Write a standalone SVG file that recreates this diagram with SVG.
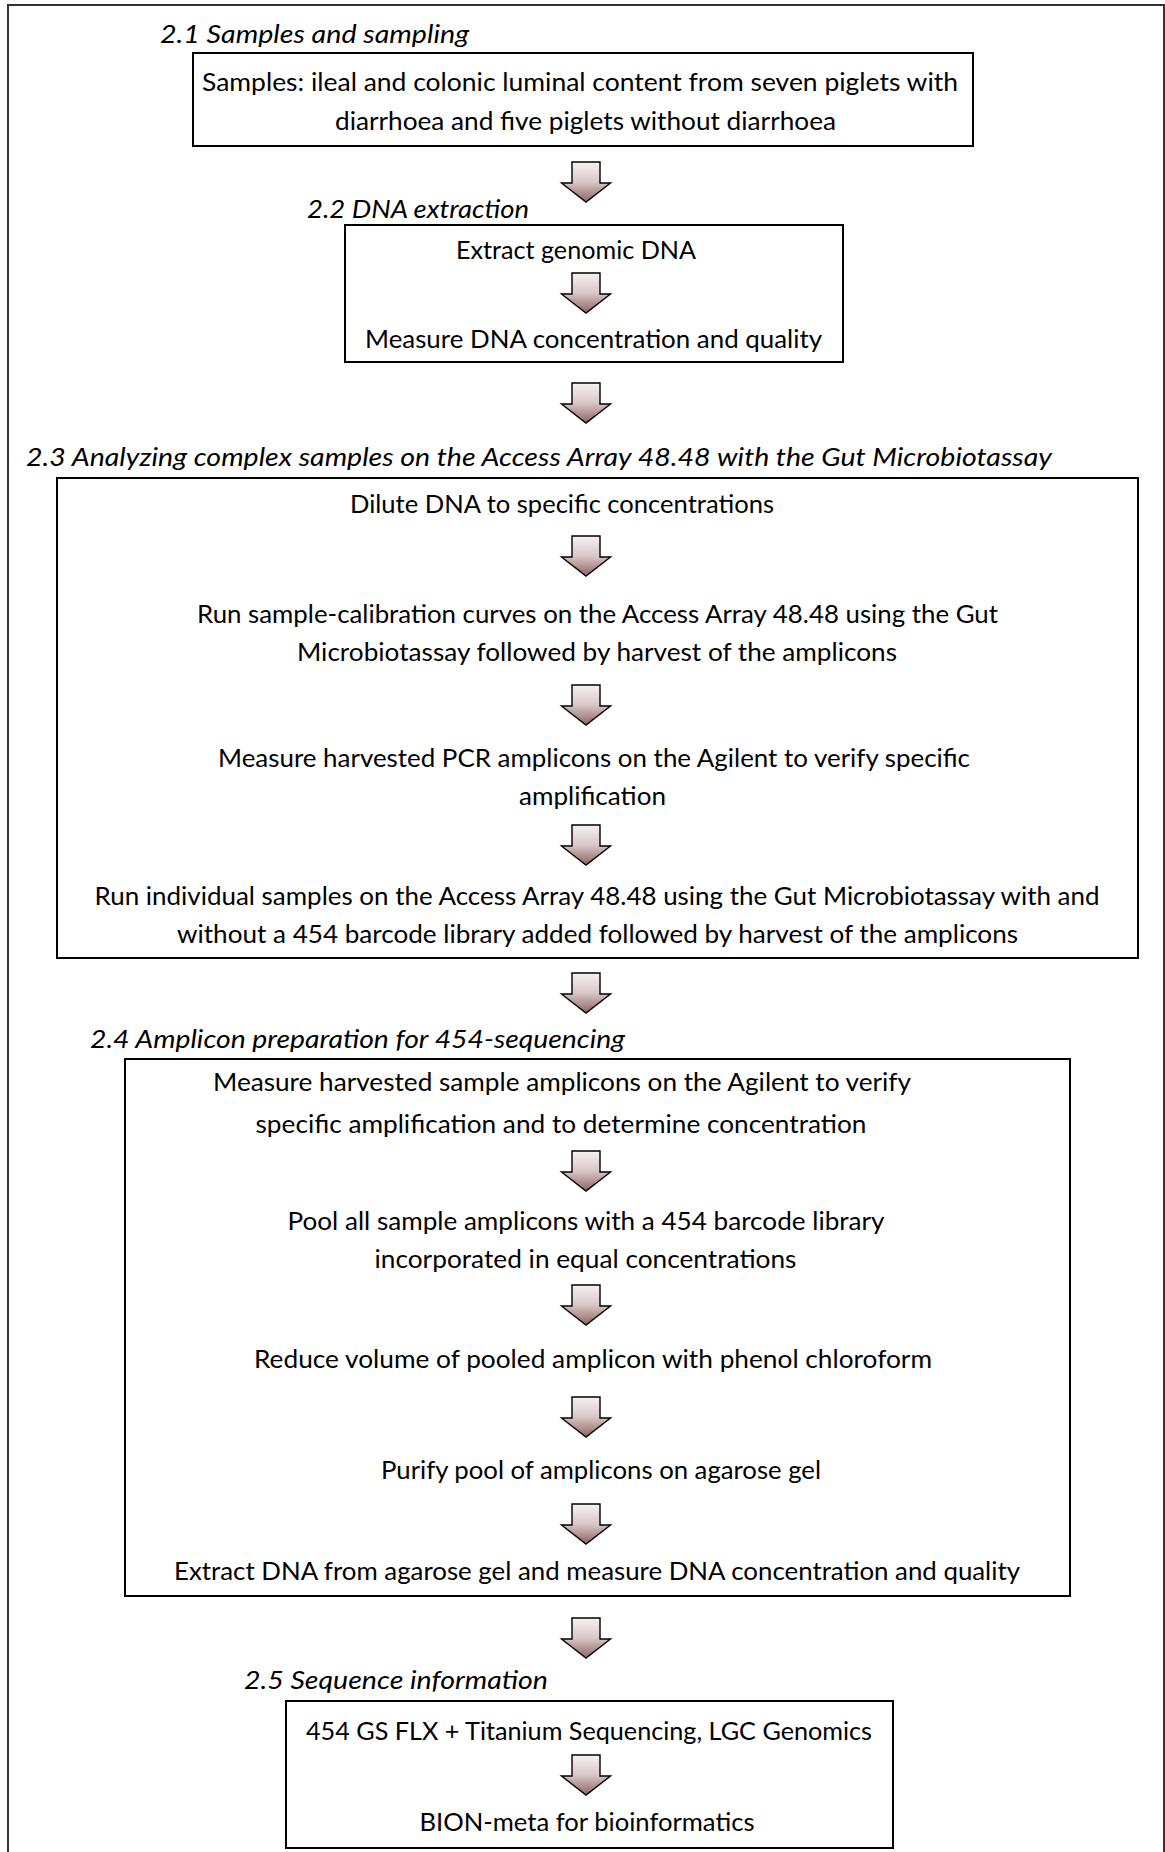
<svg xmlns="http://www.w3.org/2000/svg" xmlns:xlink="http://www.w3.org/1999/xlink" width="1165" height="1852" viewBox="0 0 1165 1852">
<style>
.frame{fill:none;stroke:#333;stroke-width:2}
.box{fill:#fff;stroke:#000;stroke-width:2}
.t{font-family:Lato,"Open Sans","Liberation Sans",sans-serif;font-size:25px;fill:#000;text-anchor:middle}
.h{font-family:Lato,"Open Sans","Liberation Sans",sans-serif;font-size:26px;font-style:italic;fill:#000}
.arr{fill:url(#ag);stroke:#000;stroke-width:1.4;stroke-linejoin:miter}
</style>
<defs>
<linearGradient id="ag" x1="0" y1="0" x2="0" y2="1">
<stop offset="0" stop-color="#f6f1f1"/>
<stop offset="0.5" stop-color="#d9c7c7"/>
<stop offset="1" stop-color="#8e6363"/>
</linearGradient>
<path id="arrow" d="M -14 0 H 14 V 21 H 24.5 L 0 40 L -24.5 21 H -14 Z"/>
<clipPath id="c1"><rect x="0" y="90" width="1165" height="45"/></clipPath>
<clipPath id="c2"><rect x="0" y="625" width="1165" height="41"/></clipPath>
<clipPath id="c3"><rect x="0" y="770" width="1165" height="40"/></clipPath>
<clipPath id="c4"><rect x="0" y="908" width="1165" height="40"/></clipPath>
<clipPath id="c5"><rect x="0" y="1098" width="1165" height="40"/></clipPath>
<clipPath id="c6"><rect x="0" y="1233" width="1165" height="40"/></clipPath>
</defs>

<rect class="frame" x="8" y="5" width="1156" height="1900"/>

<g id="h21"><text class="h" x="160" y="43" textLength="309" lengthAdjust="spacingAndGlyphs">2.1 Samples and sampling</text></g>
<g id="n1">
<rect class="box" x="193" y="53" width="780" height="93"/>
<text class="t" x="580" y="91" textLength="756" lengthAdjust="spacingAndGlyphs">Samples: ileal and colonic luminal content from seven piglets with</text>
<text class="t" x="585.5" y="130" textLength="501" lengthAdjust="spacingAndGlyphs" clip-path="url(#c1)">diarrhoea and five piglets without diarrhoea</text>
</g>

<g id="h22"><text class="h" x="307" y="218" textLength="222" lengthAdjust="spacingAndGlyphs">2.2 DNA extraction</text></g>
<g id="n2">
<rect class="box" x="345" y="225" width="498" height="137"/>
<text class="t" x="576" y="259" textLength="240" lengthAdjust="spacingAndGlyphs">Extract genomic DNA</text>
<text class="t" x="593.5" y="348" textLength="457" lengthAdjust="spacingAndGlyphs">Measure DNA concentration and quality</text>
</g>

<g id="h23"><text class="h" x="26" y="466" textLength="1026" lengthAdjust="spacingAndGlyphs">2.3 Analyzing complex samples on the Access Array 48.48 with the Gut Microbiotassay</text></g>
<g id="n3">
<rect class="box" x="57" y="478" width="1081" height="480"/>
<text class="t" x="562" y="513" textLength="424" lengthAdjust="spacingAndGlyphs">Dilute DNA to specific concentrations</text>
<text class="t" x="597.5" y="623" textLength="801" lengthAdjust="spacingAndGlyphs">Run sample-calibration curves on the Access Array 48.48 using the Gut</text>
<text class="t" x="597" y="661" textLength="600" lengthAdjust="spacingAndGlyphs" clip-path="url(#c2)">Microbiotassay followed by harvest of the amplicons</text>
<text class="t" x="594" y="767" textLength="752" lengthAdjust="spacingAndGlyphs">Measure harvested PCR amplicons on the Agilent to verify specific</text>
<text class="t" x="592.5" y="805" textLength="147" lengthAdjust="spacingAndGlyphs" clip-path="url(#c3)">amplification</text>
<text class="t" x="597" y="905" textLength="1005" lengthAdjust="spacingAndGlyphs">Run individual samples on the Access Array 48.48 using the Gut Microbiotassay with and</text>
<text class="t" x="597.5" y="943" textLength="841" lengthAdjust="spacingAndGlyphs" clip-path="url(#c4)">without a 454 barcode library added followed by harvest of the amplicons</text>
</g>

<g id="h24"><text class="h" x="90" y="1048" textLength="535" lengthAdjust="spacingAndGlyphs">2.4 Amplicon preparation for 454-sequencing</text></g>
<g id="n4">
<rect class="box" x="125" y="1059" width="945" height="537"/>
<text class="t" x="562" y="1091" textLength="698" lengthAdjust="spacingAndGlyphs">Measure harvested sample amplicons on the Agilent to verify</text>
<text class="t" x="561" y="1133" textLength="611" lengthAdjust="spacingAndGlyphs" clip-path="url(#c5)">specific amplification and to determine concentration</text>
<text class="t" x="586" y="1230" textLength="597" lengthAdjust="spacingAndGlyphs">Pool all sample amplicons with a 454 barcode library</text>
<text class="t" x="585.5" y="1268" textLength="422" lengthAdjust="spacingAndGlyphs" clip-path="url(#c6)">incorporated in equal concentrations</text>
<text class="t" x="593" y="1368" textLength="678" lengthAdjust="spacingAndGlyphs">Reduce volume of pooled amplicon with phenol chloroform</text>
<text class="t" x="601" y="1479" textLength="440" lengthAdjust="spacingAndGlyphs">Purify pool of amplicons on agarose gel</text>
<text class="t" x="597" y="1580" textLength="846" lengthAdjust="spacingAndGlyphs">Extract DNA from agarose gel and measure DNA concentration and quality</text>
</g>

<g id="h25"><text class="h" x="244" y="1689" textLength="304" lengthAdjust="spacingAndGlyphs">2.5 Sequence information</text></g>
<g id="n5">
<rect class="box" x="286" y="1701" width="607" height="147"/>
<text class="t" x="589" y="1740" textLength="566" lengthAdjust="spacingAndGlyphs">454 GS FLX + Titanium Sequencing, LGC Genomics</text>
<text class="t" x="587" y="1831" textLength="335" lengthAdjust="spacingAndGlyphs">BION-meta for bioinformatics</text>
</g>

<g id="connectors">
<use xlink:href="#arrow" href="#arrow" class="arr" x="586" y="162"/>
<use xlink:href="#arrow" href="#arrow" class="arr" x="586" y="273"/>
<use xlink:href="#arrow" href="#arrow" class="arr" x="586" y="383"/>
<use xlink:href="#arrow" href="#arrow" class="arr" x="586" y="536"/>
<use xlink:href="#arrow" href="#arrow" class="arr" x="586" y="685"/>
<use xlink:href="#arrow" href="#arrow" class="arr" x="586" y="825"/>
<use xlink:href="#arrow" href="#arrow" class="arr" x="586" y="973"/>
<use xlink:href="#arrow" href="#arrow" class="arr" x="586" y="1151"/>
<use xlink:href="#arrow" href="#arrow" class="arr" x="586" y="1285"/>
<use xlink:href="#arrow" href="#arrow" class="arr" x="586" y="1397"/>
<use xlink:href="#arrow" href="#arrow" class="arr" x="586" y="1504"/>
<use xlink:href="#arrow" href="#arrow" class="arr" x="586" y="1618"/>
<use xlink:href="#arrow" href="#arrow" class="arr" x="586" y="1755"/>
</g>
</svg>
